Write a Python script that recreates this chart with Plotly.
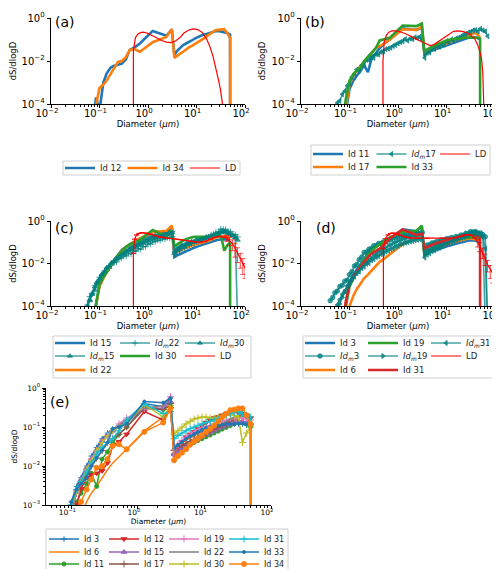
import plotly.graph_objects as go

# grade de diametros dos Id (parte fina + parte grossa)
x_id = [0.07, 0.085, 0.1, 0.12, 0.14, 0.17, 0.2, 0.24, 0.29, 0.35, 0.42, 0.52, 0.68, 1.25, 2.4, 3.1,
        3.5, 4.0, 4.6, 5.3, 6.1, 7.0, 8.0, 9.2, 10.6, 12.2, 14, 16.1, 18.5, 21.3, 24.5, 28.2, 32.4, 37.3, 42.9, 49.3]

id3 = [1e-5, 1.5e-4, 1.2e-3, 3e-3, 5e-3, 1e-2, 1.8e-2, 3e-2, 5e-2, 7e-2, 9e-2, 0.11, 0.15, 0.4, 0.33, 0.55,
       0.025, 0.03, 0.034, 0.038, 0.043, 0.048, 0.054, 0.06, 0.066, 0.072, 0.08, 0.088, 0.095, 0.1, 0.11, 0.12, 0.12, 0.12, 0.11, 0.1]
id6 = [1e-6, 1e-6, 1e-4, 3e-4, 6e-4, 1.2e-3, 2e-3, 3e-3, 5e-3, 8e-3, 1.2e-2, 1.7e-2, 2.7e-2, 0.08, 0.18, 0.25,
       0.03, 0.035, 0.04, 0.046, 0.052, 0.06, 0.067, 0.075, 0.083, 0.09, 0.1, 0.11, 0.12, 0.13, 0.14, 0.15, 0.15, 0.14, 0.13, 0.12]
id11 = [1e-5, 5e-5, 5e-4, 1.2e-3, 2e-3, 3.5e-3, 6.5e-3, 3e-3, 1.5e-2, 2.3e-2, 4e-2, 6.5e-2, 0.1, 0.33, 0.28, 0.35,
        0.02, 0.024, 0.028, 0.032, 0.036, 0.04, 0.045, 0.05, 0.056, 0.062, 0.07, 0.078, 0.088, 0.098, 0.11, 0.12, 0.13, 0.13, 0.12, 0.1]
id12 = [1e-5, 2e-4, 5e-5, 1e-3, 2.6e-3, 5e-3, 6e-3, 6.5e-3, 7.5e-3, 1.2e-2, 3.3e-2, 4.2e-2, 6.5e-2, 0.25, 0.15, 0.3,
        0.019, 0.03, 0.042, 0.055, 0.065, 0.075, 0.09, 0.11, 0.13, 0.15, 0.17, 0.18, 0.2, 0.22, 0.24, 0.25, 0.23, 0.22, 0.2, 0.17]
id15 = [1e-5, 1.5e-4, 1e-3, 2.5e-3, 4.5e-3, 9e-3, 1.5e-2, 2.5e-2, 4.5e-2, 6e-2, 8e-2, 0.1, 0.13, 0.32, 0.3, 0.45,
        0.02, 0.024, 0.028, 0.033, 0.038, 0.044, 0.05, 0.057, 0.064, 0.072, 0.08, 0.09, 0.1, 0.11, 0.12, 0.13, 0.14, 0.14, 0.13, 0.12]
id17 = [1e-5, 8e-5, 8e-4, 2e-3, 3.5e-3, 6e-3, 1e-2, 1.6e-2, 2.5e-2, 4e-2, 5e-2, 6.5e-2, 0.1, 0.3, 0.28, 0.4,
        0.025, 0.03, 0.034, 0.038, 0.042, 0.048, 0.055, 0.062, 0.07, 0.078, 0.088, 0.1, 0.11, 0.12, 0.14, 0.16, 0.18, 0.2, 0.18, 0.12]
id19 = [1e-5, 1e-4, 8e-4, 2e-3, 4e-3, 8e-3, 1.5e-2, 2.5e-2, 4e-2, 6e-2, 8e-2, 0.12, 0.17, 0.3, 0.35, 0.6,
        0.026, 0.035, 0.045, 0.055, 0.065, 0.075, 0.085, 0.095, 0.1, 0.11, 0.12, 0.13, 0.14, 0.15, 0.16, 0.17, 0.17, 0.17, 0.16, 0.15]
id22 = [1e-5, 1e-4, 8e-4, 2e-3, 4e-3, 8e-3, 1.3e-2, 2.2e-2, 4e-2, 6e-2, 8e-2, 0.11, 0.15, 0.3, 0.35, 0.6,
        0.03, 0.036, 0.042, 0.048, 0.055, 0.062, 0.07, 0.078, 0.085, 0.092, 0.1, 0.11, 0.12, 0.14, 0.16, 0.18, 0.19, 0.2, 0.18, 0.15]
id30 = [1e-5, 1e-4, 1e-3, 2.2e-3, 4e-3, 8e-3, 1.4e-2, 2.4e-2, 4e-2, 6e-2, 8e-2, 0.1, 0.13, 0.38, 0.18, 0.35,
        0.065, 0.08, 0.1, 0.12, 0.14, 0.16, 0.17, 0.18, 0.18, 0.17, 0.17, 0.18, 0.19, 0.2, 0.21, 0.2, 0.18, 0.04, 0.07, 0.1]
id31 = [1e-5, 2e-4, 1e-3, 2.5e-3, 4e-3, 7e-3, 1.2e-2, 2e-2, 3e-2, 4e-2, 5e-2, 8e-2, 0.15, 0.4, 0.22, 0.25,
        0.05, 0.06, 0.07, 0.08, 0.09, 0.1, 0.11, 0.12, 0.13, 0.14, 0.15, 0.16, 0.18, 0.2, 0.22, 0.24, 0.25, 0.22, 0.2, 0.18]
id33 = [1e-5, 2e-4, 1.2e-3, 2.5e-3, 3.5e-3, 5e-3, 1e-2, 1.6e-2, 2.5e-2, 4e-2, 9e-2, 0.1, 0.12, 0.45, 0.42, 0.55,
        0.028, 0.035, 0.042, 0.05, 0.058, 0.066, 0.075, 0.085, 0.095, 0.1, 0.105, 0.11, 0.115, 0.12, 0.12, 0.12, 0.125, 0.125, 0.12, 0.11]
id34 = [1e-5, 8e-5, 5.6e-4, 8e-4, 1.2e-3, 2.5e-3, 4.5e-3, 9e-3, 1e-2, 1.5e-2, 3.3e-2, 3.6e-2, 2.7e-2, 7.5e-2, 0.13, 0.3,
        0.014, 0.018, 0.022, 0.027, 0.035, 0.043, 0.05, 0.06, 0.075, 0.09, 0.11, 0.14, 0.18, 0.22, 0.27, 0.28, 0.3, 0.3, 0.2, 0.12]

# curvas que caem a zero no ultimo canal
com_queda = ["Id 12", "Id 30", "Id 31", "Id 33", "Id 34"]

# grade dos Id medidos (log10 de dS/dlogD)
x_idm = [0.04, 0.045, 0.05, 0.056, 0.063, 0.071, 0.08, 0.09, 0.1, 0.112, 0.126, 0.141, 0.158, 0.178, 0.2, 0.224,
         0.251, 0.282, 0.316, 0.355, 0.398, 0.447, 0.501, 0.562, 0.631, 0.708, 0.794, 0.891, 1.0, 1.12, 1.26, 1.41,
         1.58, 1.78, 2.0, 2.24, 2.51, 2.82, 3.16, 3.55, 3.98, 4.47, 5.01, 5.62, 6.31, 7.08, 7.94, 8.91, 10.0, 11.2,
         12.6, 14.1, 15.8, 17.8, 20.0, 22.4, 25.1, 28.2, 31.6, 35.5, 39.8, 44.7, 50.1, 56.2, 63.1, 70.8]

idm17_log = [-5, -5, -4.4, -3.95, -3.85, -3.55, -3.4, -3.15, -3.05, -2.75, -2.6, -2.4, -2.45, -2.2, -2.15, -1.95,
             -1.95, -1.82, -1.85, -1.68, -1.7, -1.58, -1.55, -1.45, -1.42, -1.38, -1.3, -1.25, -1.18, -1.12, -1.08, -0.98,
             -1.05, -0.96, -0.98, -0.9, -0.93, -0.88, -1.02, -1.85, -1.62, -1.6, -1.43, -1.45, -1.3, -1.34, -1.2, -1.24,
             -1.08, -1.12, -1.0, -1.04, -0.95, -0.92, -0.86, -0.78, -0.75, -0.68, -0.64, -0.58, -0.56, -0.62, -0.5, -0.58,
             -0.62, -0.85]
idm15_log = [-5, -5, -4.5, -4.05, -3.75, -3.45, -3.25, -2.9, -2.82, -2.55, -2.45, -2.2, -2.18, -1.95, -1.92, -1.75,
             -1.72, -1.55, -1.52, -1.38, -1.35, -1.22, -1.2, -1.1, -1.08, -0.98, -0.95, -0.85, -0.82, -0.74, -0.72, -0.66,
             -0.68, -0.6, -0.62, -0.54, -0.57, -0.5, -0.46, -1.42, -1.28, -1.22, -1.12, -1.13, -1.02, -1.04, -0.96, -0.97,
             -0.88, -0.9, -0.84, -0.84, -0.78, -0.76, -0.7, -0.72, -0.63, -0.6, -0.53, -0.48, -0.55, -0.58, -0.66, -0.68,
             -0.78, -5]
idm22_log = [-5, -4.6, -4.15, -3.95, -3.55, -3.4, -3.05, -2.95, -2.65, -2.6, -2.35, -2.33, -2.12, -2.08, -1.92, -1.93,
             -1.78, -1.75, -1.65, -1.65, -1.52, -1.55, -1.4, -1.43, -1.3, -1.33, -1.2, -1.21, -1.08, -1.09, -0.98, -0.97,
             -0.9, -0.91, -0.83, -0.85, -0.78, -0.79, -0.72, -1.58, -1.42, -1.41, -1.27, -1.28, -1.15, -1.15, -1.05, -1.05,
             -0.95, -0.95, -0.86, -0.85, -0.76, -0.75, -0.66, -0.63, -0.53, -0.51, -0.38, -0.39, -0.4, -0.48, -0.5, -0.63,
             -0.64, -0.75]
idm30_log = [-5, -5, -4.4, -4.0, -3.7, -3.4, -3.1, -2.85, -2.72, -2.5, -2.38, -2.2, -2.12, -1.98, -1.9, -1.78,
             -1.7, -1.6, -1.55, -1.45, -1.4, -1.32, -1.28, -1.2, -1.16, -1.1, -1.05, -0.98, -0.95, -0.88, -0.85, -0.8,
             -0.78, -0.72, -0.7, -0.65, -0.62, -0.6, -0.55, -1.5, -1.35, -1.3, -1.2, -1.18, -1.1, -1.07, -1.0, -0.98,
             -0.92, -0.9, -0.85, -0.82, -0.78, -0.74, -0.7, -0.66, -0.62, -0.58, -0.55, -0.5, -0.48, -0.55, -0.62, -0.7,
             -0.78, -0.9]
idm3_log = [-3.75, -3.6, -3.38, -3.3, -3.08, -3.02, -2.83, -2.78, -2.52, -2.38, -2.12, -2.05, -1.82, -1.7, -1.48, -1.46,
            -1.33, -1.29, -1.16, -1.15, -1.06, -1.07, -0.98, -0.97, -0.88, -0.87, -0.79, -0.78, -0.71, -0.72, -0.66, -0.68,
            -0.63, -0.64, -0.58, -0.62, -0.56, -0.58, -0.53, -1.28, -1.13, -1.12, -1.03, -1.02, -0.96, -0.97, -0.9, -0.92,
            -0.83, -0.84, -0.78, -0.8, -0.73, -0.74, -0.66, -0.67, -0.58, -0.58, -0.5, -0.52, -0.5, -0.57, -0.56, -0.64,
            -0.74, -5]
idm19_log = [-5, -5, -4.6, -4.2, -3.9, -3.6, -3.35, -3.15, -2.9, -2.75, -2.55, -2.45, -2.28, -2.18, -2.0, -1.95,
             -1.8, -1.75, -1.6, -1.55, -1.42, -1.4, -1.28, -1.26, -1.15, -1.12, -1.03, -1.0, -0.92, -0.9, -0.83, -0.82,
             -0.76, -0.75, -0.7, -0.69, -0.64, -0.63, -0.58, -1.48, -1.35, -1.33, -1.22, -1.22, -1.12, -1.12, -1.04, -1.03,
             -0.96, -0.96, -0.9, -0.88, -0.83, -0.8, -0.76, -0.72, -0.68, -0.64, -0.6, -0.57, -0.55, -0.6, -0.62, -0.7,
             -5, -5]
idm31_log = [-5, -4.5, -4.2, -3.95, -3.7, -3.45, -3.3, -3.05, -2.95, -2.75, -2.62, -2.45, -2.38, -2.22, -2.15, -2.02,
             -1.98, -1.85, -1.8, -1.7, -1.66, -1.56, -1.52, -1.44, -1.4, -1.32, -1.28, -1.2, -1.17, -1.1, -1.07, -1.02,
             -1.0, -0.96, -0.94, -0.9, -0.88, -0.85, -0.82, -1.72, -1.58, -1.52, -1.42, -1.38, -1.3, -1.26, -1.18, -1.14,
             -1.07, -1.04, -0.97, -0.94, -0.88, -0.84, -0.78, -0.74, -0.68, -0.64, -0.58, -0.6, -0.55, -0.6, -0.62, -0.75,
             -1.3, -6]

# distribuicoes LD de cada painel
ld_a_x = [0.5, 0.5, 0.55, 0.62, 0.7, 0.8, 0.95, 1.2, 1.5, 1.9, 2.4, 3.0, 3.7, 4.5, 5.5, 6.8, 8.5, 10.5, 13, 16, 19, 22, 25, 28, 31, 34, 35]
ld_a_y = [1e-6, 0.03, 0.12, 0.18, 0.21, 0.22, 0.2, 0.16, 0.12, 0.09, 0.075, 0.072, 0.085, 0.12, 0.2, 0.27, 0.31, 0.29, 0.22, 0.11, 0.045, 0.016, 0.005, 0.0015, 0.0005, 0.00012, 1e-6]
ld_b_x = [0.49, 0.49, 0.52, 0.58, 0.65, 0.75, 0.9, 1.1, 1.4, 1.8, 2.3, 3.0, 3.8, 4.6, 5.5, 7, 9, 11.5, 14, 17, 21, 26, 32, 38, 44, 50, 53, 56, 59, 61, 62]
ld_b_y = [1e-6, 0.01, 0.08, 0.16, 0.22, 0.25, 0.25, 0.23, 0.19, 0.15, 0.11, 0.08, 0.06, 0.052, 0.058, 0.085, 0.13, 0.19, 0.24, 0.25, 0.24, 0.21, 0.16, 0.11, 0.056, 0.022, 0.012, 0.003, 0.0004, 0.0001, 1e-6]
ld_c_x = [0.5, 0.5, 0.53, 0.58, 0.65, 0.75, 0.9, 1.1, 1.4, 1.8, 2.3, 3.0, 3.8, 4.8, 6, 7.5, 9.5, 12, 15, 19, 24, 30, 36, 42, 48, 55, 62, 70, 80, 90, 100]
ld_c_y = [1e-6, 0.03, 0.14, 0.22, 0.26, 0.28, 0.27, 0.24, 0.2, 0.17, 0.16, 0.15, 0.14, 0.13, 0.12, 0.11, 0.1, 0.1, 0.11, 0.14, 0.17, 0.19, 0.18, 0.16, 0.12, 0.085, 0.055, 0.033, 0.018, 0.01, 0.006]
ld_c_err = [0, 0, 0, 0, 0, 0, 0, 0, 0, 0, 0, 0, 0, 0, 0, 0, 0, 0, 0, 0, 0, 0, 0, 0.05, 0.05, 0.045, 0.035, 0.022, 0.012, 0.007, 0.004]
ld_d_x = [0.5, 0.5, 0.55, 0.62, 0.7, 0.8, 0.95, 1.15, 1.4, 1.8, 2.5, 4, 8, 15, 20, 24, 28, 33, 38, 44, 48, 55, 62, 70, 80, 90, 100]
ld_d_y = [1e-6, 0.05, 0.15, 0.22, 0.26, 0.27, 0.25, 0.21, 0.18, 0.16, 0.155, 0.155, 0.155, 0.16, 0.19, 0.22, 0.23, 0.21, 0.16, 0.1, 0.066, 0.035, 0.018, 0.009, 0.005, 0.003, 0.0022]
ld_d_err = [0, 0, 0, 0, 0, 0, 0, 0, 0, 0, 0, 0, 0, 0, 0, 0, 0, 0, 0, 0.04, 0.03, 0.018, 0.01, 0.005, 0.003, 0.0018, 0.0012]

W, H = 500, 569
TAB = ['#1f77b4', '#ff7f0e', '#2ca02c', '#d62728', '#9467bd', '#8c564b', '#e377c2', '#7f7f7f', '#bcbd22', '#17becf']
TEAL = 'rgba(0,128,128,0.72)'
FONTE = 'DejaVu Sans'

ids = {"Id 3": id3, "Id 6": id6, "Id 11": id11, "Id 12": id12, "Id 15": id15, "Id 17": id17,
       "Id 19": id19, "Id 22": id22, "Id 30": id30, "Id 31": id31, "Id 33": id33, "Id 34": id34}
idms = {"17": idm17_log, "15": idm15_log, "22": idm22_log, "30": idm30_log,
        "3": idm3_log, "19": idm19_log, "31": idm31_log}

fig = go.Figure()


def serie_id(nome):
    x = list(x_id)
    y = list(ids[nome])
    if nome in com_queda:
        x.append(x_id[-1])
        y.append(1e-7)
    return x, y


def add_id(nome, cor, eixo, leg):
    x, y = serie_id(nome)
    fig.add_trace(go.Scatter(x=x, y=y, mode='lines', name=nome, line=dict(color=cor, width=2.6),
                             xaxis='x' + eixo, yaxis='y' + eixo, legend=leg))


def add_idm(num, simbolo, eixo, leg):
    y = [10 ** v for v in idms[num]]
    fig.add_trace(go.Scatter(x=x_idm, y=y, mode='lines+markers', name='<i>Id</i><sub><i>m</i></sub>' + num,
                             line=dict(color=TEAL, width=1.6),
                             marker=dict(symbol=simbolo, size=4.5, color=TEAL, line=dict(color=TEAL, width=1)),
                             xaxis='x' + eixo, yaxis='y' + eixo, legend=leg))


def add_ld(x, y, eixo, leg, err=None):
    tr = go.Scatter(x=x, y=y, mode='lines', name='LD', line=dict(color='red', width=1.2),
                    xaxis='x' + eixo, yaxis='y' + eixo, legend=leg)
    if err is not None:
        tr.error_y = dict(type='data', array=err, color='red', thickness=0.7, width=2.5)
    fig.add_trace(tr)


# (a)
add_id("Id 12", TAB[0], '', 'legend')
add_id("Id 34", TAB[1], '', 'legend')
add_ld(ld_a_x, ld_a_y, '', 'legend')

# (b)
add_id("Id 11", TAB[0], '2', 'legend2')
add_id("Id 17", TAB[1], '2', 'legend3')
add_idm("17", 'triangle-left', '2', 'legend2')
add_id("Id 33", TAB[2], '2', 'legend3')
add_ld(ld_b_x, ld_b_y, '2', 'legend2')

# (c)
add_id("Id 15", TAB[0], '3', 'legend4')
add_idm("15", 'triangle-up', '3', 'legend5')
add_id("Id 22", TAB[1], '3', 'legend6')
add_idm("22", 'cross-thin', '3', 'legend4')
add_id("Id 30", TAB[2], '3', 'legend5')
add_idm("30", 'triangle-up', '3', 'legend4')
add_ld(ld_c_x, ld_c_y, '3', 'legend5', ld_c_err)

# (d)
add_id("Id 3", TAB[0], '4', 'legend7')
add_idm("3", 'circle', '4', 'legend8')
add_id("Id 6", TAB[1], '4', 'legend9')
add_id("Id 19", TAB[2], '4', 'legend7')
add_idm("19", 'triangle-right', '4', 'legend8')
add_id("Id 31", TAB[3], '4', 'legend9')
add_idm("31", 'triangle-left', '4', 'legend7')
add_ld(ld_d_x, ld_d_y, '4', 'legend8', ld_d_err)

# (e) todos os Id
marcadores = {"Id 3": ('cross-thin', 4), "Id 6": (None, 0), "Id 11": ('circle', 4), "Id 12": ('triangle-down', 5),
              "Id 15": ('triangle-up', 5), "Id 17": ('cross-thin', 5), "Id 19": ('cross-thin', 5), "Id 22": (None, 0),
              "Id 30": ('cross-thin', 5), "Id 31": ('cross-thin', 5), "Id 33": ('circle', 3), "Id 34": ('circle', 5)}
linhas_e = ['legend10', 'legend11', 'legend12']
for i, nome in enumerate(ids):
    x, y = serie_id(nome)
    cor = TAB[i % 10]
    simb, tam = marcadores[nome]
    tr = go.Scatter(x=x, y=y, name=nome, line=dict(color=cor, width=1.5), xaxis='x5', yaxis='y5',
                    legend=linhas_e[i % 3])
    if simb:
        tr.mode = 'lines+markers'
        tr.marker = dict(symbol=simb, size=tam, color=cor, line=dict(color=cor, width=1))
    else:
        tr.mode = 'lines'
    fig.add_trace(tr)


def sup(k):
    return '10<sup>' + ('−' if k < 0 else '') + str(abs(k)) + '</sup>'


def eixo_x(x0, x1, y_anchor, exps, faixa, fs, ts):
    return dict(type='log', domain=[x0 / W, x1 / W], anchor=y_anchor, range=faixa, automargin=False,
                tickmode='array', tickvals=[10.0 ** k for k in exps], ticktext=[sup(k) for k in exps],
                tickfont=dict(size=fs, family=FONTE, color='black'),
                ticks='outside', ticklen=3.5, tickwidth=0.8, tickcolor='black',
                ticklabelstandoff=-3, ticklabelshift=-4,
                minor=dict(ticks='outside', ticklen=2, tickwidth=0.6, tickcolor='black', tickmode='array',
                           tickvals=[m * 10.0 ** k for k in range(exps[0] - 1, exps[-1]) for m in range(2, 10)]),
                showline=True, linecolor='black', linewidth=0.8, showgrid=False, zeroline=False,
                title=dict(text='Diameter (<i>μm</i>)', font=dict(size=ts, family=FONTE, color='black'), standoff=0))


def eixo_y(top, bot, x_anchor, exps, faixa, fs, ts, menor=False):
    d = dict(type='log', domain=[1 - bot / H, 1 - top / H], anchor=x_anchor, range=faixa, automargin=False,
             tickmode='array', tickvals=[10.0 ** k for k in exps], ticktext=[sup(k) for k in exps],
             tickfont=dict(size=fs, family=FONTE, color='black'),
             ticks='outside', ticklen=3.5, tickwidth=0.8, tickcolor='black',
             showline=True, linecolor='black', linewidth=0.8, showgrid=False, zeroline=False,
             title=dict(text='dS/dlogD', font=dict(size=ts, family=FONTE, color='black'), standoff=4))
    if menor:
        d['minor'] = dict(ticks='outside', ticklen=2, tickwidth=0.6, tickcolor='black', tickmode='array',
                          tickvals=[m * 10.0 ** k for k in range(exps[0], exps[-1]) for m in range(2, 10)])
    return d


ex = [-2, -1, 0, 1, 2]
ey = [-4, -2, 0]


def legenda(x_px, y_px, largura, fs=8.5):
    return dict(orientation='h', x=x_px / W, y=1 - y_px / H, xanchor='left', yanchor='middle',
                entrywidth=largura, entrywidthmode='pixels', bgcolor='rgba(0,0,0,0)', borderwidth=0,
                font=dict(size=fs, family=FONTE, color='#262626'), itemclick=False, itemdoubleclick=False)


def caixa(x0, x1, y0, y1):
    return dict(type='rect', xref='paper', yref='paper', x0=x0 / W, x1=x1 / W, y0=1 - y1 / H, y1=1 - y0 / H,
                line=dict(color='#d0d0d0', width=1), fillcolor='rgba(0,0,0,0)')


def rotulo(txt, eixo, x, y):
    return dict(text=txt, xref='x' + eixo + ' domain', yref='y' + eixo + ' domain', x=x, y=y,
                xanchor='left', yanchor='top', showarrow=False, font=dict(size=14, family=FONTE, color='black'))


fig.update_layout(
    width=W, height=H, margin=dict(l=0, r=0, t=0, b=0, autoexpand=False),
    paper_bgcolor='white', plot_bgcolor='white',
    font=dict(family=FONTE, color='black'),
    xaxis=eixo_x(43, 237, 'y', ex, [-2, 2], 10, 8.5),
    yaxis=eixo_y(10, 96, 'x', ey, [-4, 0], 10, 8.5),
    xaxis2=eixo_x(293, 487, 'y2', ex, [-2, 2], 10, 8.5),
    yaxis2=eixo_y(10, 96, 'x2', ey, [-4, 0], 10, 8.5),
    xaxis3=eixo_x(43, 237, 'y3', ex, [-2, 2], 10, 8.5),
    yaxis3=eixo_y(213, 298, 'x3', ey, [-4, 0], 10, 8.5),
    xaxis4=eixo_x(293, 487, 'y4', ex, [-2, 2], 10, 8.5),
    yaxis4=eixo_y(213, 298, 'x4', ey, [-4, 0], 10, 8.5),
    xaxis5=eixo_x(38, 263, 'y5', [-1, 0, 1, 2], [-1.38, 2], 7.5, 7.5),
    yaxis5=eixo_y(380, 497, 'x5', [-3, -2, -1, 0], [-3, 0], 7.5, 7.5, menor=True),
    legend=legenda(52, 160, 17.5),
    legend2=legenda(300, 146, 18.5),
    legend3=legenda(300, 159, 18.5),
    legend4=legenda(42, 335, 20),
    legend5=legenda(42, 348, 20),
    legend6=legenda(42, 362, 20),
    legend7=legenda(292, 335, 18),
    legend8=legenda(292, 348, 18),
    legend9=legenda(292, 362, 18),
    legend10=legenda(36, 531, 15, 8),
    legend11=legenda(36, 544, 15, 8),
    legend12=legenda(36, 556, 15, 8),
    shapes=[caixa(55, 232, 153, 167), caixa(303, 482, 137, 167), caixa(45, 243, 328, 370),
            caixa(295, 489, 328, 370), caixa(38, 280, 521, 563)],
    annotations=[rotulo('(a)', '', 0.01, 1.07), rotulo('(b)', '2', 0.01, 1.07), rotulo('(c)', '3', 0.01, 1.04),
                 rotulo('(d)', '4', 0.065, 1.04), rotulo('(e)', '5', 0.01, 0.97)],
)

fig.write_html("out.html")
